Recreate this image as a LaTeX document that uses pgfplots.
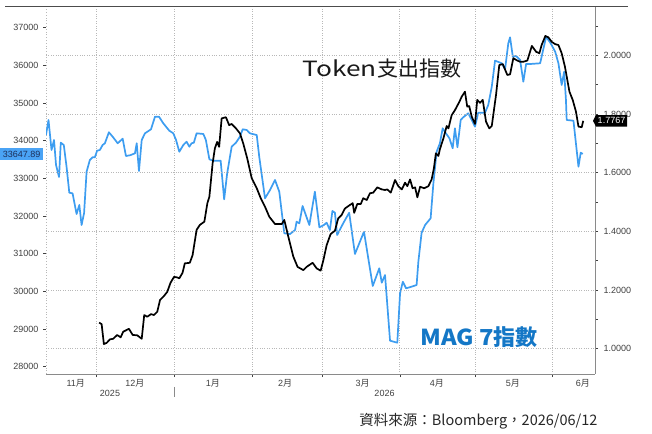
\documentclass[border=0pt]{standalone}
\usepackage{pgfplots}
\pgfplotsset{compat=1.18}
\usepackage{pgfplotstable}
\usepackage{graphicx}
\usepackage{fontspec}
\setmainfont{Liberation Sans}
\newfontfamily\cjk{Noto Sans CJK TC}
\definecolor{mblue}{HTML}{3D9DF0}
\definecolor{mtext}{HTML}{1477C6}
\definecolor{gridc}{HTML}{B8B8B8}
\definecolor{axc}{HTML}{8A8A8A}
\definecolor{tickc}{HTML}{404040}
\definecolor{lbox}{HTML}{4AA3F5}
\definecolor{ltext}{HTML}{1C2F5A}

\pgfplotstableread{
d v
-20.2 34151
-19.2 34550
-18.0 33753
-17.0 34019
-16.2 33355
-15.0 33036
-14.3 33947
-13.1 33886
-12.0 33310
-10.9 32619
-9.6 32603
-8.0 32054
-6.9 32293
-6.0 31762
-5.0 32080
-4.0 33177
-2.7 33488
-1.6 33559
-0.7 33559
0.2 33735
1.3 33753
2.4 33886
3.3 33931
4.9 34223
6.6 34090
8.4 33931
10.4 34053
11.7 33594
13.3 33612
15.3 33665
16.0 33931
16.9 33196
18.0 34019
19.3 34196
21.7 34303
23.3 34637
24.9 34637
26.6 34462
29.0 34266
30.6 34196
31.7 34019
33.0 33708
34.6 33886
35.9 33973
37.0 33841
37.9 33931
38.8 33947
39.9 34196
42.6 34178
43.6 34019
45.0 33506
46.5 33469
49.5 33469
50.9 32444
52.1 33134
53.9 33841
55.6 33947
57.2 34106
58.3 34303
59.9 34284
61.2 34196
63.9 34151
64.9 33575
67.2 32471
69.2 32691
71.2 32957
72.9 32646
74.9 31541
77.2 31523
79.2 31629
79.8 31849
80.9 31807
82.2 32266
84.9 31762
87.1 32646
88.9 31701
90.7 31762
91.8 31823
93.1 31629
94.1 32134
95.1 32088
96.0 31496
98.4 31807
100.8 32088
103.1 30992
106.7 31584
110.2 30142
112.8 30612
113.8 30230
115.1 30434
117.1 28690
120.0 28637
121.1 29948
122.2 30256
123.5 30081
125.7 30124
127.7 30169
128.4 30787
129.7 31557
131.1 31762
133.3 31940
134.4 32869
135.7 33708
137.0 33931
138.1 34329
139.4 34196
140.8 34064
142.1 33798
143.0 34329
144.0 33825
145.3 34550
146.3 34621
148.3 34727
149.7 34550
151.0 34372
152.3 34743
155.0 34743
156.3 34948
157.7 35434
159.0 36124
161.7 36055
163.0 35896
164.3 36586
165.0 36745
166.1 36230
167.4 36249
169.0 36143
170.3 35566
171.4 36036
173.0 36036
177.0 36055
179.4 36761
181.2 36586
183.0 36363
184.3 36055
185.6 35479
186.6 35832
187.3 35081
187.6 34550
190.3 34531
192.3 33310
193.2 33681
194.0 33647.89
}\magdata

\pgfplotstableread{
d v
1.0 1.089
2.0 1.084
2.9 1.016
4.0 1.020
5.3 1.032
6.6 1.034
8.2 1.047
9.6 1.039
10.6 1.058
12.9 1.068
14.4 1.047
16.2 1.046
18.0 1.034
19.0 1.115
20.2 1.109
21.7 1.118
22.9 1.115
24.2 1.126
25.3 1.166
26.9 1.180
28.2 1.194
29.5 1.225
30.9 1.245
32.2 1.243
33.0 1.240
34.3 1.259
35.2 1.291
37.2 1.293
38.3 1.319
39.9 1.405
41.2 1.422
43.0 1.433
44.2 1.496
45.0 1.518
46.3 1.632
47.2 1.683
48.1 1.705
48.9 1.688
49.9 1.785
51.6 1.789
52.9 1.762
53.9 1.766
55.6 1.751
57.2 1.734
58.5 1.700
60.1 1.649
61.9 1.581
63.9 1.547
65.5 1.513
67.2 1.484
68.9 1.450
71.2 1.425
73.9 1.425
74.9 1.439
76.5 1.382
78.5 1.314
80.2 1.279
82.5 1.268
83.8 1.279
86.2 1.293
87.8 1.274
89.4 1.266
90.5 1.302
91.8 1.353
93.4 1.391
95.1 1.402
96.4 1.444
97.8 1.456
99.1 1.478
101.1 1.490
102.2 1.496
102.8 1.463
104.0 1.493
105.4 1.493
106.4 1.513
107.8 1.507
109.1 1.530
110.4 1.532
112.0 1.550
113.8 1.543
115.1 1.541
116.0 1.543
117.4 1.532
119.1 1.575
120.4 1.554
121.8 1.543
123.1 1.566
124.0 1.554
125.1 1.577
126.1 1.547
127.1 1.550
128.0 1.516
129.1 1.552
130.7 1.547
132.4 1.554
133.7 1.577
134.6 1.615
135.4 1.666
136.4 1.657
137.0 1.680
138.4 1.717
139.7 1.759
140.4 1.751
141.7 1.796
143.0 1.813
144.8 1.842
145.7 1.859
147.0 1.876
147.9 1.825
148.7 1.827
149.7 1.791
151.0 1.766
151.9 1.848
153.0 1.838
154.1 1.848
155.4 1.774
156.7 1.751
157.7 1.759
159.4 1.865
160.7 1.967
162.1 1.970
163.9 1.933
165.0 1.935
166.3 1.990
167.9 1.982
169.0 1.978
170.3 1.978
171.9 1.982
173.7 2.032
175.4 2.012
176.7 2.007
177.6 2.035
179.1 2.066
180.3 2.061
181.6 2.046
183.0 2.038
184.3 2.035
185.6 2.007
186.9 1.961
188.7 1.876
190.0 1.848
191.3 1.808
192.3 1.757
193.6 1.755
194.2 1.7767
}\tokdata

\begin{document}
\begin{tikzpicture}
\path[use as bounding box] (0,0) rectangle (652pt,433pt);
\begin{axis}[
  at={(46pt,59pt)}, anchor=south west,
  scale only axis, width=549pt, height=368pt,
  xmin=-20.2, xmax=198.9, ymin=27806, ymax=37576,
  axis x line*=bottom, axis y line*=left,
  x axis line style={axc, line width=0.8pt},
  y axis line style={gridc, dotted, line width=0.8pt},
  tick align=outside,
  major tick length=3pt,
  tick style={tickc, line width=0.6pt},
  xtick={0,31,62,90,121,151,182},
  xticklabels={},
  extra x ticks={-8.3,15.3,46.4,75.2,106.2,135.8,166.1,194.1},
  extra x tick labels={11{\cjk 月},12{\cjk 月},1{\cjk 月},2{\cjk 月},3{\cjk 月},4{\cjk 月},5{\cjk 月},6{\cjk 月}},
  extra x tick style={major tick length=0pt, grid=none, xticklabel style={yshift=-2pt}},
  xmajorgrids=true,
  grid style={gridc, dotted, line width=0.8pt},
  ytick={28000,29000,30000,31000,32000,33000,34000,35000,36000,37000},
  scaled y ticks=false,
  yticklabel style={font=\fontsize{9}{10}\selectfont, text=tickc, xshift=-1pt},
  xticklabel style={font=\fontsize{9}{10}\selectfont, text=tickc},
  /pgf/number format/assume math mode=true,
  /pgf/number format/1000 sep={},
  clip=true,
]
\addplot[mblue, line width=1.7pt, line join=round] table[x=d, y=v] {\magdata};
\coordinate (lastM) at (axis cs:-20.2,33647.89);
\end{axis}
\begin{axis}[
  at={(46pt,59pt)}, anchor=south west,
  scale only axis, width=549pt, height=368pt,
  xmin=-20.2, xmax=198.9, ymin=0.914, ymax=2.168,
  axis x line=none, axis y line*=right,
  y axis line style={axc, line width=0.8pt},
  tick align=outside,
  major tick length=3pt, minor tick length=3pt,
  tick style={tickc, line width=0.6pt},
  ytick={1.0,1.2,1.4,1.6,1.8,2.0},
  minor ytick={1.1,1.3,1.5,1.7,1.9,2.1},
  ymajorgrids=true,
  grid style={gridc, dotted, line width=0.8pt},
  scaled y ticks=false,
  yticklabel style={font=\fontsize{9}{10}\selectfont, text=tickc, xshift=2pt},
  /pgf/number format/assume math mode=true,
  /pgf/number format/.cd, fixed, fixed zerofill, precision=4,
]
\addplot[black, line width=1.7pt, line join=round] table[x=d, y=v] {\tokdata};
\coordinate (lastK) at (axis cs:198.9,1.7767);
\end{axis}
% frame top line
\draw[black!70, line width=0.8pt] (5pt,427pt) -- (628pt,427pt);
% year separator
\draw[axc, line width=0.6pt] (174.4pt,46pt) -- (174.4pt,36pt);
\node[font=\fontsize{9}{10}\selectfont, text=tickc] at (110pt,40pt) {2025};
\node[font=\fontsize{9}{10}\selectfont, text=tickc] at (384.5pt,40pt) {2026};
% last value labels
\node[anchor=east, fill=lbox, text=ltext, inner xsep=2.5pt, inner ysep=0pt, minimum height=12.5pt,
  font=\fontsize{9}{10}\selectfont, xshift=-3pt] at (lastM) {33647.89};
\fill[black] ([xshift=-2pt]lastK) -- ([xshift=1pt,yshift=5.8pt]lastK) -- ([xshift=32pt,yshift=5.8pt]lastK)
  -- ([xshift=32pt,yshift=-5.8pt]lastK) -- ([xshift=1pt,yshift=-5.8pt]lastK) -- cycle;
\node[text=white, font=\fontsize{9}{10}\selectfont, anchor=center] at ([xshift=16.5pt]lastK) {1.7767};
% annotations
\node[font=\cjk\fontsize{21}{23}\selectfont, text=black!90, inner sep=0pt] at (382pt,364pt)
  {\scalebox{1.25}[1]{Token}\kern1pt 支出指數};
\node[font=\cjk\bfseries\fontsize{22}{24}\selectfont, text=mtext, inner sep=0pt] at (479pt,96pt)
  {\scalebox{1.08}[1]{MAG 7}指數};
\node[anchor=east, font=\cjk\fontsize{14.5}{16}\selectfont, text=black!85] at (601pt,11.5pt) {資料來源：Bloomberg，2026/06/12};
\end{tikzpicture}
\end{document}
